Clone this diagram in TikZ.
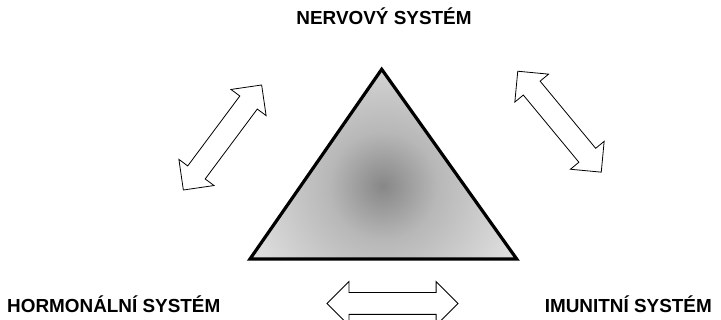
\documentclass[tikz,border=0pt]{standalone}
\usepackage{fontspec}
\setmainfont{Liberation Sans}
\usetikzlibrary{shapes.arrows}
\pgfdeclareradialshading{stredsede}{\pgfpoint{0bp}{0bp}}{color(0bp)=(black!47); color(8bp)=(black!28); color(20bp)=(black!14); color(35bp)=(black!8); color(50bp)=(black!5)}
\begin{document}
\begin{tikzpicture}[x=1pt,y=1pt,
    system/.style={font=\fontsize{18.9}{22}\selectfont\bfseries,inner sep=0},
    sipka/.style={draw,line width=0.8pt,fill=white,double arrow,inner xsep=0,inner ysep=10.5pt,
        minimum height=131pt,double arrow head extend=11pt}]
    \useasboundingbox (0,0) rectangle (721,320);
    \coordinate (vrchol) at (381.7,250.7);
    \coordinate (levy) at (250,61);
    \coordinate (pravy) at (516.7,61);
    \begin{scope}
        \clip (vrchol) -- (levy) -- (pravy) -- cycle;
        \shade[shading=stredsede] (383,134) circle (170);
    \end{scope}
    \draw[line width=3.2pt,line join=miter] (vrchol) -- (levy) -- (pravy) -- cycle;
    \node[sipka,rotate=53.3] (nh) at (222.5,182.5) {};
    \node[sipka,rotate=-50.4] (ni) at (559.5,198.3) {};
    \node[sipka] (hi) at (392.5,16.5) {};
    \node[system,anchor=base] (nerv) at (384,295) {NERVOVÝ SYSTÉM};
    \node[system,anchor=base west] (horm) at (7,7) {HORMONÁLNÍ SYSTÉM};
    \node[system,anchor=base east] (imun) at (712,7) {IMUNITNÍ SYSTÉM};
\end{tikzpicture}
\end{document}
